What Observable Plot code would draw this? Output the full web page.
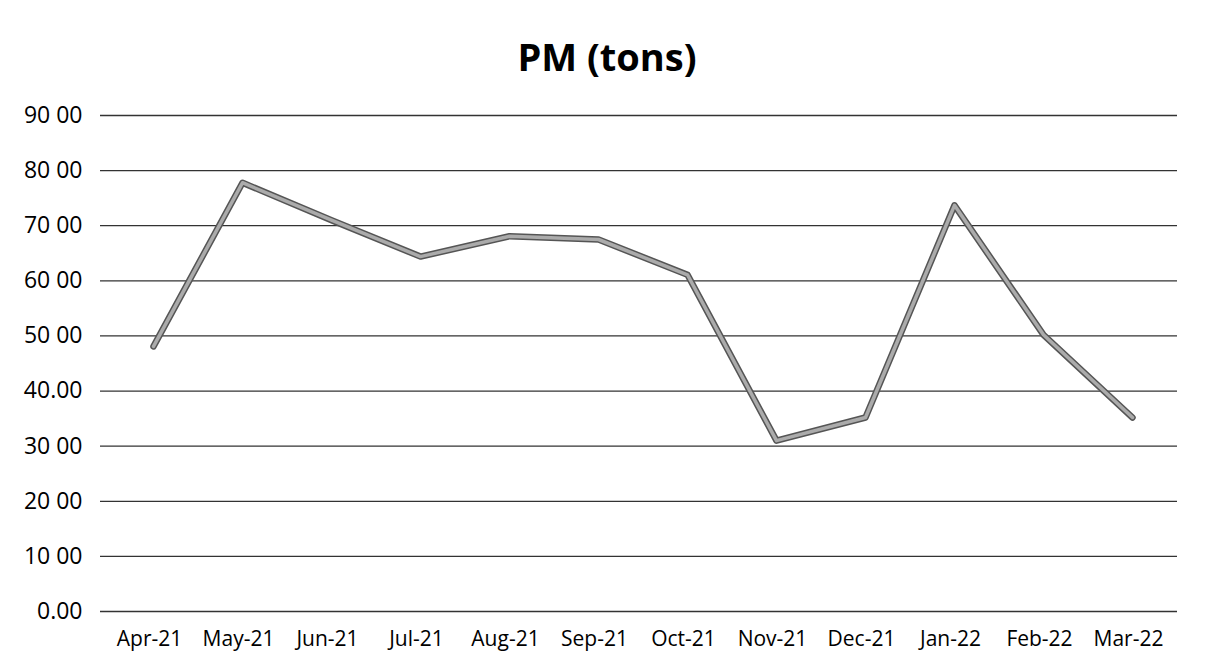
<!DOCTYPE html>
<html>
<head>
<meta charset="utf-8">
<script src="https://cdn.jsdelivr.net/npm/d3@7"></script>
<script src="https://cdn.jsdelivr.net/npm/@observablehq/plot@0.6"></script>
<style>
  html, body { margin: 0; padding: 0; background: #fff; }
  #wrap { width: 1206px; height: 670px; position: relative; font-family: "Open Sans", sans-serif; }
  #title { position: absolute; left: 0; top: 9px; width: 1206px; height: 95px; text-align: center;
           font-weight: bold; font-size: 38px; line-height: 95px; padding-left: 8px; box-sizing: border-box; color: #000; }
  #chart { position: absolute; left: 0; top: 95px; }
  #chart svg text { font-size: 21px; font-family: "Open Sans", sans-serif; }
  #chart svg g[aria-label="y-axis tick label"] text { font-size: 23px; }
</style>
</head>
<body>
<div id="wrap">
  <div id="title">PM (tons)</div>
  <div id="chart"></div>
</div>
<script>
const months = ["Apr-21","May-21","Jun-21","Jul-21","Aug-21","Sep-21","Oct-21","Nov-21","Dec-21","Jan-22","Feb-22","Mar-22"];
const pm = [48.1, 77.8, 71.0, 64.4, 68.1, 67.5, 61.1, 31.0, 35.2, 73.7, 50.2, 35.2];
const yTicks = [0, 10, 20, 30, 40, 50, 60, 70, 80, 90];
const yTickLabels = ["0.00", "10 00", "20 00", "30 00", "40.00", "50 00", "60 00", "70 00", "80 00", "90 00"];

const data = months.map((m, i) => ({month: m, value: pm[i]}));

const chart = Plot.plot({
  width: 1206,
  height: 575,
  marginTop: 20,
  marginBottom: 59,
  marginLeft: 100,
  marginRight: 29,
  style: {fontFamily: "Open Sans, sans-serif", fontSize: "21px", color: "#000", background: "#fff"},
  x: {type: "point", domain: months, padding: 0.5, label: null},
  y: {domain: [0, 90], label: null},
  marks: [
    Plot.ruleY(yTicks, {stroke: "#333", strokeWidth: 1.3}),
    Plot.axisY(yTicks, {tickSize: 0, tickPadding: 18, tickFormat: (d) => yTickLabels[yTicks.indexOf(d)], label: null}),
    Plot.axisX({tickSize: 0, tickPadding: 20, label: null}),
    Plot.line(data, {x: "month", y: "value", dx: 4, stroke: "#555", strokeWidth: 6.5, strokeLinejoin: "round", strokeLinecap: "round"}),
    Plot.line(data, {x: "month", y: "value", dx: 4, stroke: "#ababab", strokeWidth: 3.5, strokeLinejoin: "round", strokeLinecap: "round"})
  ]
});
document.getElementById("chart").appendChild(chart);
</script>
</body>
</html>
